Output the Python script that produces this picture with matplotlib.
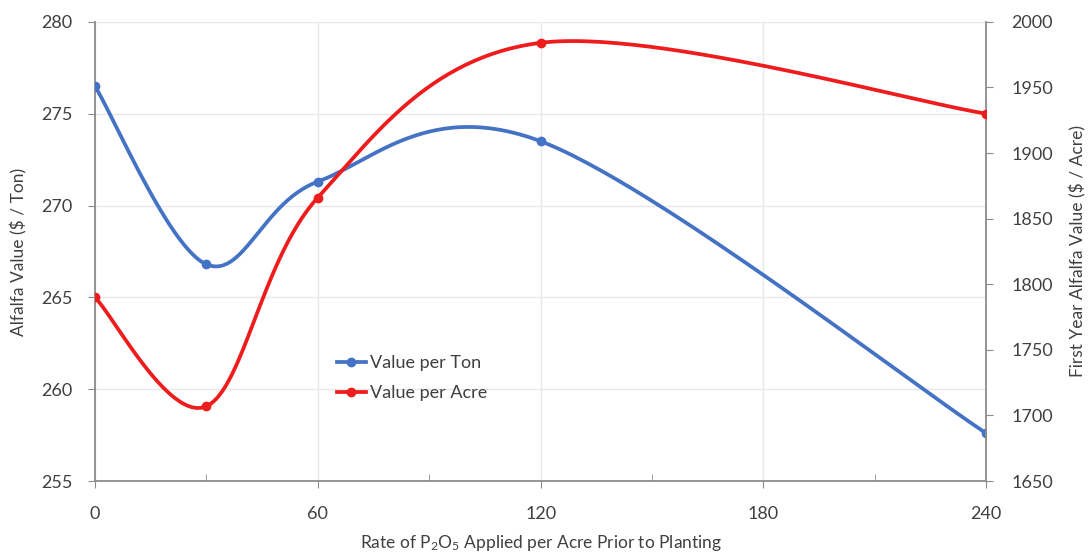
import numpy as np
import matplotlib
matplotlib.use("Agg")
import matplotlib.pyplot as plt
from matplotlib.ticker import MultipleLocator

# Data
rate = [0, 30, 60, 120, 240]
value_per_ton = [276.5, 266.8, 271.3, 273.5, 257.6]
value_per_acre = [1790, 1707, 1866, 1984, 1930]

BLUE = '#4472C4'
RED = '#EE1C1C'
TEXT = '#404040'
AXIS = '#8C8C8C'
GRID = '#E8E8E8'

plt.rcParams['font.family'] = ['Lato', 'DejaVu Sans']
plt.rcParams['mathtext.default'] = 'regular'


def smooth(xs, ys, n=60):
    # Excel-style smoothed line (Catmull-Rom as cubic Bezier)
    pts = np.column_stack([xs, ys]).astype(float)
    ext = np.vstack([pts[0], pts, pts[-1]])
    t = np.linspace(0, 1, n)[:, None]
    out = []
    for i in range(1, len(ext) - 2):
        p0, p1, p2, p3 = ext[i - 1], ext[i], ext[i + 1], ext[i + 2]
        c1 = p1 + (p2 - p0) / 6
        c2 = p2 - (p3 - p1) / 6
        seg = ((1 - t) ** 3) * p1 + 3 * ((1 - t) ** 2) * t * c1 + 3 * (1 - t) * t ** 2 * c2 + t ** 3 * p2
        out.append(seg)
    out = np.vstack(out)
    return out[:, 0], out[:, 1]


fig = plt.figure(figsize=(10.91, 5.6), dpi=100)
ax = fig.add_axes([0.087, 0.141, 0.817, 0.82])
ax2 = ax.twinx()

# Blue series, left axis
sx, sy = smooth(rate, value_per_ton)
ax.plot(sx, sy, color=BLUE, lw=2.7, solid_capstyle='round', zorder=3)
ax.plot(rate, value_per_ton, 'o', color=BLUE, ms=6, zorder=4)

# Red series, right axis
sx, sy = smooth(rate, value_per_acre)
ax2.plot(sx, sy, color=RED, lw=2.7, solid_capstyle='round', zorder=3)
ax2.plot(rate, value_per_acre, 'o', color=RED, ms=6, zorder=4)

ax.set_xlim(0, 240)
ax.set_ylim(255, 280)
ax2.set_ylim(1650, 2000)
ax.xaxis.set_major_locator(MultipleLocator(60))
ax.xaxis.set_minor_locator(MultipleLocator(30))
ax.yaxis.set_major_locator(MultipleLocator(5))
ax2.yaxis.set_major_locator(MultipleLocator(50))

ax.grid(True, which='major', color=GRID, lw=1, zorder=0)
ax.set_axisbelow(True)

for a in (ax, ax2):
    for s in a.spines.values():
        s.set_visible(False)
ax.spines['left'].set_visible(True)
ax.spines['bottom'].set_visible(True)
ax2.spines['right'].set_visible(True)
for s in (ax.spines['left'], ax.spines['bottom'], ax2.spines['right']):
    s.set_color(AXIS)
    s.set_linewidth(1.3)

ax.tick_params(axis='y', which='major', direction='out', length=5, color=AXIS,
               labelsize=13, labelcolor=TEXT, pad=11)
ax.tick_params(axis='x', which='major', direction='out', length=5, color=AXIS,
               labelsize=13, labelcolor=TEXT, pad=13)
ax.tick_params(axis='x', which='minor', direction='in', length=5, color=AXIS)
ax2.tick_params(axis='y', which='major', direction='out', length=5, color=AXIS,
                labelsize=13, labelcolor=TEXT, pad=13)

ax.set_xlabel('Rate of P$_2$O$_5$ Applied per Acre Prior to Planting', fontsize=12.5,
              color=TEXT, labelpad=8)
ax.set_ylabel('Alfalfa Value ($ / Ton)', fontsize=12.5, color=TEXT, labelpad=10)
ax2.set_ylabel('First Year Alfalfa Value ($ / Acre)', fontsize=12.5, color=TEXT, labelpad=12)

h1 = plt.Line2D([], [], color=BLUE, lw=2.7, marker='o', ms=6)
h2 = plt.Line2D([], [], color=RED, lw=2.7, marker='o', ms=6)
leg = fig.legend([h1, h2], ['Value per Ton', 'Value per Acre'], loc='upper left',
                 bbox_to_anchor=(0.294, 0.395), frameon=False, fontsize=13,
                 handlelength=1.6, handletextpad=0.2, labelspacing=0.8)
for t in leg.get_texts():
    t.set_color(TEXT)

fig.savefig('out.png', dpi=100, facecolor='white')
